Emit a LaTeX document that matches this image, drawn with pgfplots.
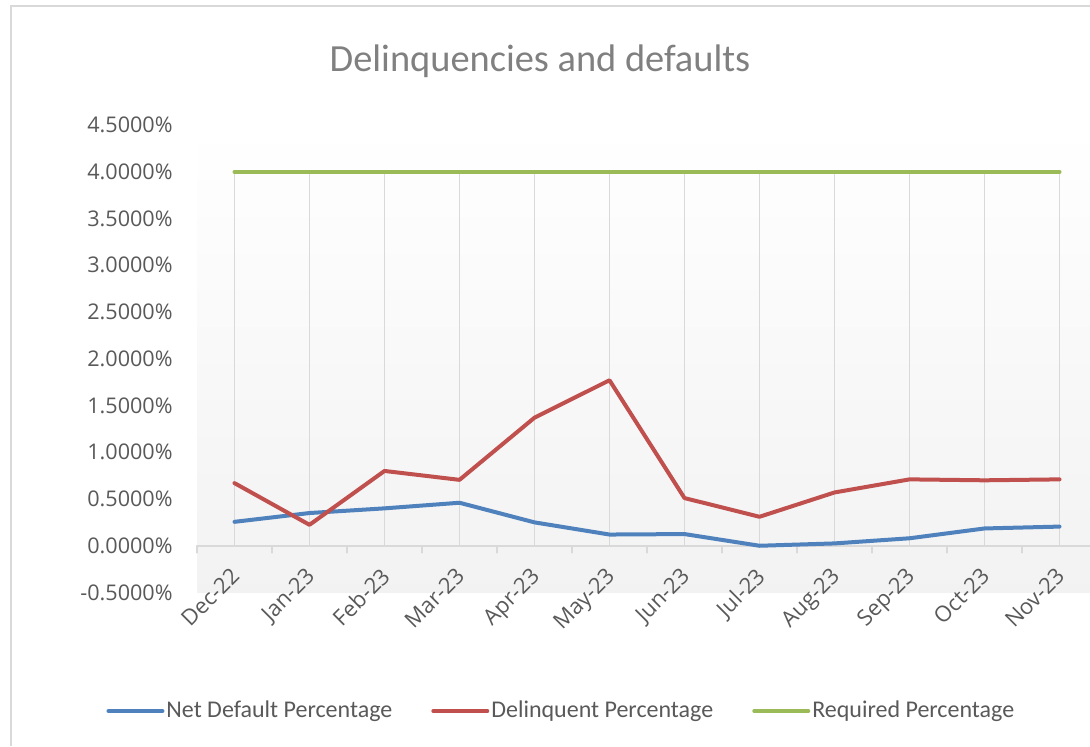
\documentclass[border=0pt]{standalone}
\usepackage{fontspec}
\setmainfont{Carlito}
\newfontfamily\tickfont{Open Sans}
\usepackage{pgfplots}
\pgfplotsset{compat=1.18}
\definecolor{cblue}{HTML}{4F81BD}
\definecolor{cred}{HTML}{C0504D}
\definecolor{cgreen}{HTML}{9BBB59}
\definecolor{cgrid}{HTML}{D9D9D9}
\definecolor{ctext}{HTML}{595959}
\definecolor{ctitle}{HTML}{808080}
\begin{document}
\begin{tikzpicture}
\useasboundingbox (0,0) rectangle (545pt,373pt);
\draw[cgrid, line width=0.75pt] (5.5pt,0pt) -- (5.5pt,370pt) -- (545pt,370pt);
\node[anchor=base, text=ctitle, font=\fontsize{19.2}{23}\selectfont] at (270pt,337pt) {Delinquencies and defaults};
\begin{axis}[
  scale only axis, width=446.5pt, height=233.75pt,
  at={(98.5pt,76.75pt)}, anchor=south west,
  xmin=-0.5, xmax=11.4067, ymin=-0.5, ymax=4.5,
  axis x line*=middle, axis y line*=left,
  y axis line style={draw=none},
  x axis line style={cgrid, line width=0.75pt},
  axis background/.style={shade, top color=white, bottom color=black!5},
  xtick={0,1,2,3,4,5,6,7,8,9,10,11},
  xticklabels={Dec-22,Jan-23,Feb-23,Mar-23,Apr-23,May-23,Jun-23,Jul-23,Aug-23,Sep-23,Oct-23,Nov-23},
  minor xtick={-0.5,0.5,1.5,2.5,3.5,4.5,5.5,6.5,7.5,8.5,9.5,10.5},
  major tick length=0pt, minor tick length=3.5pt,
  tick align=outside,
  major x tick style={draw=none},
  minor x tick style={cgrid, line width=0.75pt},
  ytick style={draw=none},
  ytick={-0.5,0,0.5,1,1.5,2,2.5,3,3.5,4,4.5},
  yticklabel={\pgfmathprintnumber[fixed, fixed zerofill, precision=4]{\tick}\%},
  /pgf/number format/assume math mode=true,
  yticklabel style={font=\tickfont\fontsize{10.8}{12}\selectfont, text=ctext, anchor=east, inner sep=0pt, xshift=-12pt},
  xticklabel style={font=\tickfont\fontsize{11}{12}\selectfont, text=ctext, inner sep=0pt, anchor=north east, xshift=-2.5pt, yshift=-10pt, rotate=45},
  legend columns=3,
  legend style={draw=none, fill=none, at={(0.408,-0.2535)}, anchor=center, font=\fontsize{12}{14}\selectfont, text=ctext, inner sep=0pt, column sep=0pt, nodes={inner sep=1pt}},
  legend image code/.code={\draw[#1, line cap=round] (0pt,0pt) -- (27pt,0pt);},
  /tikz/every even column/.append style={column sep=18.5pt},
  line join=round, line cap=round,
]
\addplot[cgrid, line width=0.75pt, ycomb, forget plot] coordinates {
(0,4)(1,4)(2,4)(3,4)(4,4)(5,4)(6,4)(7,4)(8,4)(9,4)(10,4)(11,4)};
\addplot[cblue, line width=2pt] coordinates {
(0,0.256)(1,0.35)(2,0.40)(3,0.46)(4,0.25)(5,0.12)(6,0.125)(7,0.0)(8,0.025)(9,0.08)(10,0.185)(11,0.205)};
\addlegendentry{Net Default Percentage}
\addplot[cred, line width=2pt] coordinates {
(0,0.67)(1,0.224)(2,0.80)(3,0.705)(4,1.37)(5,1.77)(6,0.51)(7,0.31)(8,0.57)(9,0.71)(10,0.70)(11,0.71)};
\addlegendentry{Delinquent Percentage}
\addplot[cgreen, line width=2pt] coordinates {
(0,4)(1,4)(2,4)(3,4)(4,4)(5,4)(6,4)(7,4)(8,4)(9,4)(10,4)(11,4)};
\addlegendentry{Required Percentage}
\end{axis}
\end{tikzpicture}
\end{document}
